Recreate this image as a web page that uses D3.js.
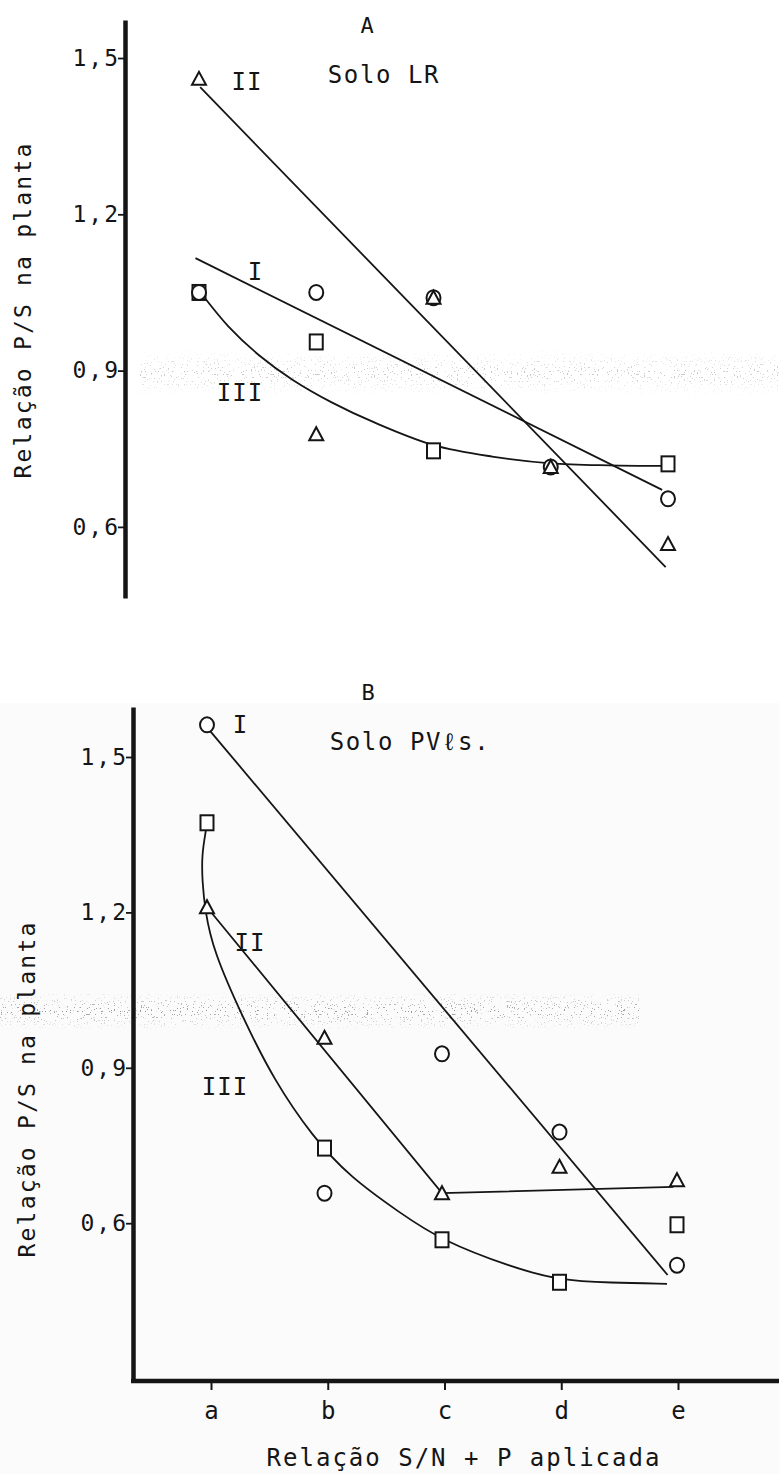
<!DOCTYPE html>
<html>
<head>
<meta charset="utf-8">
<script src="https://cdn.jsdelivr.net/npm/d3@7"></script>
<style>
  html, body { margin: 0; padding: 0; background: #ffffff; }
  svg { display: block; }
  text { font-family: "DejaVu Sans Mono", "Liberation Mono", monospace; fill: #151515; }
</style>
</head>
<body>
<svg id="fig" width="779" height="1474"></svg>
<script>
// Treatment levels on the horizontal axis
const categories = ["a", "b", "c", "d", "e"];
const yTicks = [0.6, 0.9, 1.2, 1.5];

// Solo LR – observed P/S ratios (circle = I, triangle = II, square = III)
const lrI   = [1.05, 1.05, 1.04, 0.715, 0.654];
const lrII  = [1.46, 0.778, 1.04, 0.715, 0.567];
const lrIII = [1.05, 0.955, 0.746, null, 0.721];

// Solo LR – fitted lines, [level index, ratio]
const lrFitI   = [[-0.03, 1.116], [3.95, 0.671]];
const lrFitII  = [[0.01, 1.444], [3.98, 0.523]];
const lrFitIII = [[0.03, 1.045], [0.25, 0.985], [0.52, 0.928], [0.8, 0.882], [1.14, 0.838],
                  [1.5, 0.800], [2.0, 0.757], [2.5, 0.735], [3.0, 0.722], [3.5, 0.718], [3.95, 0.717]];

// Solo PVls – observed P/S ratios
const pvI   = [1.562, 0.658, 0.927, 0.776, 0.519];
const pvII  = [1.21, 0.958, 0.658, 0.709, 0.683];
const pvIII = [1.373, 0.745, 0.568, 0.486, 0.597];

// Solo PVls – fitted lines
const pvFitI   = [[0.02, 1.552], [3.92, 0.5]];
const pvFitII  = [[0.0, 1.21], [2.0, 0.658], [3.97, 0.67]];
const pvFitIII = [[-0.009, 1.359], [-0.045, 1.31], [-0.04, 1.26], [-0.017, 1.205], [0.051, 1.127],
                  [0.306, 0.996], [0.570, 0.876], [0.902, 0.766], [1.217, 0.689], [1.643, 0.620],
                  [1.983, 0.568], [2.604, 0.514], [2.996, 0.490], [3.43, 0.485], [3.915, 0.483]];

const ink = "#151515";
const svg = d3.select("#fig");
const fmt = d => d.toFixed(1).replace(".", ",");

// faint grey cast of the lower page
svg.append("rect").attr("x", 0).attr("y", 703).attr("width", 779).attr("height", 771)
  .attr("fill", "#fbfbfb");

// sparse speckle haze across the plots
const defs = svg.append("defs");
const f = defs.append("filter").attr("id", "speckle").attr("x", 0).attr("y", 0)
  .attr("width", "100%").attr("height", "100%");
f.append("feTurbulence").attr("type", "fractalNoise").attr("baseFrequency", 0.7)
  .attr("numOctaves", 1).attr("seed", 11).attr("result", "n");
f.append("feColorMatrix").attr("in", "n").attr("type", "matrix")
  .attr("values", "0 0 0 0 0.3  0 0 0 0 0.3  0 0 0 0 0.3  0 0 0 30 -19.6").attr("result", "m");
f.append("feComposite").attr("in", "m").attr("in2", "SourceGraphic").attr("operator", "in");

const fade = defs.append("linearGradient").attr("id", "bandFade").attr("x1", 0).attr("x2", 0).attr("y1", 0).attr("y2", 1);
fade.append("stop").attr("offset", 0).attr("stop-color", "#000").attr("stop-opacity", 0);
fade.append("stop").attr("offset", 0.5).attr("stop-color", "#000").attr("stop-opacity", 1);
fade.append("stop").attr("offset", 1).attr("stop-color", "#000").attr("stop-opacity", 0);

svg.append("rect").attr("x", 140).attr("y", 350).attr("width", 639).attr("height", 46)
  .attr("fill", "url(#bandFade)").attr("opacity", 0.55).attr("filter", "url(#speckle)");
svg.append("rect").attr("x", 0).attr("y", 992).attr("width", 640).attr("height", 38)
  .attr("fill", "url(#bandFade)").attr("opacity", 1).attr("filter", "url(#speckle)");

function panel(cfg) {
  const x = d3.scaleLinear().domain([0, categories.length - 1]).range(cfg.xRange);
  const y = d3.scaleLinear().domain(cfg.yDomain).range(cfg.yRange);
  const g = svg.append("g");

  // y axis
  const ya = g.append("g").attr("transform", `translate(${cfg.axisX},0)`)
    .call(d3.axisLeft(y).tickValues(yTicks).tickFormat(fmt).tickSize(7).tickSizeOuter(0).tickPadding(1));
  ya.select(".domain").attr("stroke", ink).attr("stroke-width", 4.5);
  ya.selectAll(".tick line").attr("stroke", ink).attr("stroke-width", 1.8);
  ya.selectAll(".tick text").attr("font-size", 23).attr("letter-spacing", 2)
    .attr("fill", ink).attr("dx", 3).attr("font-family", "DejaVu Sans Mono");

  // y title
  g.append("text")
    .attr("transform", `translate(${cfg.titleX},${cfg.titleY}) rotate(-90)`)
    .attr("text-anchor", "middle").attr("dominant-baseline", "central")
    .attr("font-size", 23).attr("letter-spacing", 2.2)
    .text("Relação P/S na planta");

  // fitted lines
  const line = d3.line().x(d => x(d[0])).y(d => y(d[1]));
  cfg.fits.forEach(fit => {
    g.append("path").datum(fit.pts)
      .attr("d", line.curve(fit.curve || d3.curveLinear))
      .attr("fill", "none").attr("stroke", ink).attr("stroke-width", 1.8);
  });

  // observed points
  const shapes = {
    circle: s => s.append("ellipse").attr("rx", 7).attr("ry", 7.5),
    square: s => s.append("rect").attr("x", -6.5).attr("y", -7.5).attr("width", 13).attr("height", 15),
    triangle: s => s.append("path").attr("d", "M0,-7L7,6L-7,6Z")
  };
  cfg.series.forEach(ser => {
    ser.values.forEach((v, i) => {
      if (v == null) return;
      const m = g.append("g").attr("transform", `translate(${x(i)},${y(v)})`);
      shapes[ser.shape](m).attr("fill", "#fff").attr("stroke", ink).attr("stroke-width", 2);
    });
  });

  // labels
  cfg.labels.forEach(l => {
    g.append("text").attr("x", l.x).attr("y", l.y)
      .attr("text-anchor", l.anchor || "middle").attr("dominant-baseline", "central")
      .attr("font-size", l.size || 22).attr("letter-spacing", l.ls == null ? 1.5 : l.ls)
      .text(l.t);
  });
  return { x, y, g };
}

// Panel A – Solo LR
panel({
  xRange: [199, 668],
  yDomain: [0.4635, 1.573],
  yRange: [598, 20],
  axisX: 125,
  titleX: 23, titleY: 310,
  fits: [
    { pts: lrFitI },
    { pts: lrFitII },
    { pts: lrFitIII, curve: d3.curveCatmullRom.alpha(0.5) }
  ],
  series: [
    { shape: "square", values: lrIII },
    { shape: "circle", values: lrI },
    { shape: "triangle", values: lrII }
  ],
  labels: [
    { t: "A", x: 367, y: 25, size: 22, ls: 0 },
    { t: "Solo LR", x: 384, y: 75, size: 24, ls: 1.6 },
    { t: "II", x: 247, y: 82, size: 24, ls: 1 },
    { t: "I", x: 255, y: 272, size: 24, ls: 0 },
    { t: "III", x: 240, y: 393, size: 24, ls: 1 }
  ]
});

// Panel B – Solo PVls
const B = panel({
  xRange: [207, 677],
  yDomain: [0.2954, 1.5965],
  yRange: [1381, 707],
  axisX: 133,
  titleX: 27, titleY: 1089,
  fits: [
    { pts: pvFitI },
    { pts: pvFitII },
    { pts: pvFitIII, curve: d3.curveBasis }
  ],
  series: [
    { shape: "square", values: pvIII },
    { shape: "circle", values: pvI },
    { shape: "triangle", values: pvII }
  ],
  labels: [
    { t: "B", x: 368, y: 692, size: 22, ls: 0 },
    { t: "Solo PVℓs.", x: 410, y: 742, size: 24, ls: 1.6 },
    { t: "I", x: 240, y: 725, size: 24, ls: 0 },
    { t: "II", x: 250, y: 943, size: 24, ls: 1 },
    { t: "III", x: 225, y: 1087, size: 24, ls: 1 }
  ]
});

// x axis of panel B
const xb = d3.scaleLinear().domain([0, categories.length - 1]).range([211, 678]);
const xa = B.g.append("g").attr("transform", "translate(0,1381)")
  .call(d3.axisBottom(xb).tickValues(d3.range(categories.length))
    .tickFormat(i => categories[i]).tickSize(9).tickSizeOuter(0).tickPadding(12));
xa.select(".domain").remove();
xa.selectAll(".tick line").attr("stroke", ink).attr("stroke-width", 2);
xa.selectAll(".tick text").attr("font-size", 24).attr("fill", ink).attr("font-family", "DejaVu Sans Mono");
B.g.append("line").attr("x1", 131).attr("x2", 779).attr("y1", 1381).attr("y2", 1381)
  .attr("stroke", ink).attr("stroke-width", 4.5);

B.g.append("text").attr("x", 464).attr("y", 1458)
  .attr("text-anchor", "middle").attr("dominant-baseline", "central")
  .attr("font-size", 24).attr("letter-spacing", 2)
  .text("Relação S/N + P aplicada");
</script>
</body>
</html>
